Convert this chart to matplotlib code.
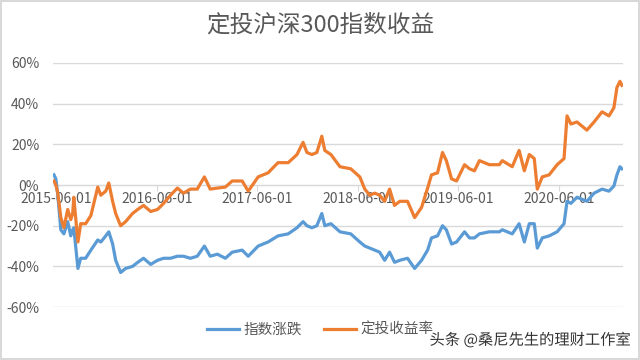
import pandas as pd
import matplotlib.pyplot as plt
import matplotlib.dates as mdates
import matplotlib.patheffects as pe

plt.rcParams['font.family'] = ['Noto Sans CJK SC', 'DejaVu Sans']

# data (percent)
dates = ['2015-05-25', '2015-06-01', '2015-06-08', '2015-06-19', '2015-06-30', '2015-07-14',
         '2015-07-25', '2015-08-01', '2015-08-05', '2015-08-20', '2015-08-30', '2015-09-17',
         '2015-10-06', '2015-10-31', '2015-11-11', '2015-11-29', '2015-12-10', '2015-12-24',
         '2016-01-04', '2016-01-22', '2016-02-09', '2016-03-05', '2016-03-24', '2016-04-14',
         '2016-05-10', '2016-06-04', '2016-06-26', '2016-07-21', '2016-08-15', '2016-09-06',
         '2016-10-01', '2016-10-26', '2016-11-21', '2016-12-12', '2017-01-07', '2017-02-05',
         '2017-03-02', '2017-04-07', '2017-04-29', '2017-06-04', '2017-07-10', '2017-08-15',
         '2017-09-21', '2017-10-23', '2017-11-14', '2017-11-28', '2017-12-16', '2018-01-03',
         '2018-01-21', '2018-02-01', '2018-02-23', '2018-03-28', '2018-05-06', '2018-06-08',
         '2018-06-26', '2018-07-14', '2018-08-01', '2018-08-19', '2018-09-06', '2018-09-24',
         '2018-10-12', '2018-10-31', '2018-11-28', '2018-12-24', '2019-01-18', '2019-02-09',
         '2019-02-23', '2019-03-17', '2019-04-04', '2019-04-18', '2019-05-07', '2019-05-25',
         '2019-06-23', '2019-07-11', '2019-07-29', '2019-08-16', '2019-09-21', '2019-10-27',
         '2019-11-07', '2019-12-13', '2020-01-07', '2020-01-26', '2020-02-13', '2020-03-02',
         '2020-03-13', '2020-03-31', '2020-04-25', '2020-05-24', '2020-06-18', '2020-06-29',
         '2020-07-13', '2020-08-04', '2020-09-09', '2020-10-05', '2020-11-03', '2020-11-28',
         '2020-12-16', '2020-12-27', '2021-01-07', '2021-01-14']

index_change = [5, 3, -5, -22, -24, -18, -25, -22, -21, -41, -36, -36,
                -32, -27, -28, -25, -23, -29, -37, -43, -41, -40, -38, -36,
                -39, -37, -36, -36, -35, -35, -36, -35, -30, -35, -34, -36,
                -33, -32, -35, -30, -28, -25, -24, -21, -18, -20, -21, -20,
                -14, -20, -19, -23, -24, -28, -30, -31, -32, -33, -37, -33,
                -38, -37, -36, -41, -37, -32, -26, -25, -20, -22, -29, -28,
                -23, -26, -26, -24, -23, -23, -22, -24, -19, -28, -19, -19,
                -31, -26, -25, -23, -19, -8, -9, -6, -8, -4, -2, -3,
                -0.5, 5, 9, 8]

aip_return = [2, 0, -4, -16, -21, -12, -17, -14, -6, -28, -19, -19,
              -15, -1, -5, -3, 1, -8, -14, -20, -18, -14, -12, -10,
              -13, -12, -9, -5, -1.5, -4, -2, -2, 4, -2, -1.5, -1,
              2, 2, -3, 4, 6, 11, 11, 15, 21, 16, 15, 16,
              24, 17, 15, 9, 8, 4, -2, -5, -4, -5, -8, -2,
              -10, -8, -8, -16, -11, -1.5, 5, 6, 16, 12, 3, 2,
              10, 8, 7, 12, 10, 10, 12, 9, 17, 7, 15, 13,
              -2, 4, 5, 10, 13, 34, 30, 31, 27, 31, 36, 34,
              38, 48, 51, 49]

df = pd.DataFrame({'date': pd.to_datetime(dates), 'idx': index_change, 'aip': aip_return})

tick_dates = pd.to_datetime(['2015-06-01', '2016-06-01', '2017-06-01',
                             '2018-06-01', '2019-06-01', '2020-06-01'])

fig = plt.figure(figsize=(6.4, 3.6), dpi=100)
fig.patch.set_edgecolor('#d9d9d9')
fig.patch.set_linewidth(1.5)
ax = fig.add_axes([0.083, 0.147, 0.89, 0.678])

ax.plot(df['date'], df['idx'] / 100, color='#5B9BD5', lw=2.3, label='指数涨跌', solid_joinstyle='round')
ax.plot(df['date'], df['aip'] / 100, color='#ED7D31', lw=2.3, label='定投收益率', solid_joinstyle='round')

ax.set_ylim(-0.6, 0.6)
ax.set_yticks([-0.6, -0.4, -0.2, 0, 0.2, 0.4, 0.6])
ax.set_yticklabels(['-60%', '-40%', '-20%', '0%', '20%', '40%', '60%'])
ax.set_xlim(pd.Timestamp('2015-05-22'), pd.Timestamp('2021-01-17'))
ax.set_xticks(tick_dates)
ax.xaxis.set_major_formatter(mdates.DateFormatter('%Y-%m-%d'))

ax.grid(axis='y', color='#d9d9d9', lw=1)
ax.set_axisbelow(True)
for s in ['top', 'right', 'left']:
    ax.spines[s].set_visible(False)
ax.spines['bottom'].set_position(('data', 0))
ax.spines['bottom'].set_color('#d9d9d9')
ax.spines['bottom'].set_zorder(0.5)
ax.tick_params(axis='y', length=0, labelsize=10, labelcolor='#595959', pad=10)
ax.tick_params(axis='x', length=4, color='#d9d9d9', labelsize=10, labelcolor='#595959', pad=1)

fig.text(0.5, 0.93, '定投沪深300指数收益', ha='center', va='center', fontsize=17, color='#595959')

leg = fig.legend(loc='center', bbox_to_anchor=(0.5, 0.083), ncol=2, frameon=False,
                 fontsize=10.5, handlelength=2.2, handletextpad=0.3, columnspacing=1.5)
for t in leg.get_texts():
    t.set_color('#595959')

fig.text(0.985, 0.055, '头条 @桑尼先生的理财工作室', ha='right', va='center', fontsize=11,
         color='#333333', path_effects=[pe.withStroke(linewidth=2.5, foreground='white')])

fig.savefig('out.png', dpi=100, edgecolor=fig.get_edgecolor())
